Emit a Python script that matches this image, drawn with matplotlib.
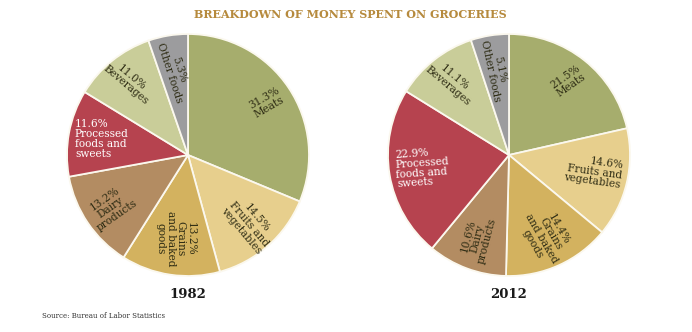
import matplotlib
matplotlib.use("Agg")
import matplotlib.pyplot as plt
import numpy as np

categories = ["Meats", "Fruits and\nvegetables", "Grains\nand baked\ngoods", "Dairy\nproducts",
              "Processed\nfoods and\nsweets", "Beverages", "Other foods"]
values_1982 = [31.3, 14.5, 13.2, 13.2, 11.6, 11.0, 5.3]
values_2012 = [21.5, 14.6, 14.4, 10.6, 22.9, 11.1, 5.1]
years = ["1982", "2012"]

colors = ["#a6ad6d", "#e7cf8d", "#d3b25f", "#b38c62", "#b6434f", "#c9cd99", "#9c9c9e"]
text_colors = ["#2e2c14", "#2e2c14", "#2e2c14", "#2e2c14", "white", "#2e2c14", "#2e2c14"]

# label style: (radius fraction, rotation, alignment) per pie
style_1982 = [(0.78, 30, "center"), (0.76, -50, "center"), (0.70, -90, "center"),
              (0.77, 35, "center"), (0.74, 0, "left"), (0.78, -40, "center"), (0.70, -72, "center")]
style_2012 = [(0.78, 35, "center"), (0.72, -8, "right"), (0.74, -60, "center"),
              (0.74, 75, "center"), (0.74, 4, "left"), (0.77, -40, "center"), (0.71, -78, "center")]

W, H = 692, 332
fig = plt.figure(figsize=(W / 100, H / 100), dpi=100)
ax = fig.add_axes([0, 0, 1, 1])

serif = ["DejaVu Serif"]
R = 121
centers = [(188, H - 155), (509, H - 155)]

for vals, (cx, cy), styles, year in zip([values_1982, values_2012], centers,
                                         [style_1982, style_2012], years):
    wedges, _ = ax.pie(vals, colors=colors, startangle=90, counterclock=False,
                       center=(cx, cy), radius=R,
                       wedgeprops=dict(edgecolor="#fbf8ee", linewidth=1.3))
    for w, v, cat, tc, (rf, rot, ha) in zip(wedges, vals, categories, text_colors, styles):
        mid = np.deg2rad((w.theta1 + w.theta2) / 2)
        x = cx + rf * R * np.cos(mid)
        y = cy + rf * R * np.sin(mid)
        label = f"{v:.1f}%\n{cat}"
        if ha == "left":
            x -= 25
        elif ha == "right":
            x += 28
        ax.text(x, y, label, rotation=rot, rotation_mode="anchor", ha=ha, va="center",
                multialignment=ha, fontsize=7.6, color=tc, family=serif,
                linespacing=1.0)
    ax.text(cx, H - 294, year, ha="center", va="center", fontsize=9.5, fontweight="bold",
            family=serif, color="#1a1a1a")

ax.text(350, H - 14, "BREAKDOWN OF MONEY SPENT ON GROCERIES", ha="center", va="center",
        fontsize=8, fontweight="bold", family=serif, color="#b68a3d")
ax.text(42, H - 316, "Source: Bureau of Labor Statistics", ha="left", va="center",
        fontsize=5, family=serif, color="#333333")

ax.set_xlim(0, W)
ax.set_ylim(0, H)
ax.set_aspect("equal")
ax.axis("off")

fig.savefig("out.png", dpi=100, facecolor="white")
